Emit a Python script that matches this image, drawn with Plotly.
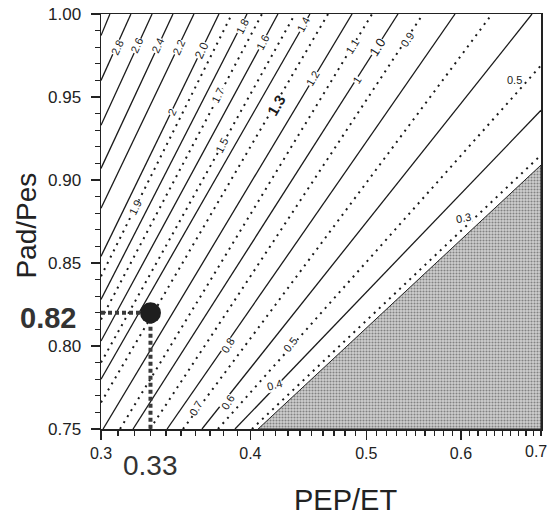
import math
import plotly.graph_objects as go

# ---------------- data ----------------
# contour level of each line
levels = [3.0, 2.8, 2.6, 2.4, 2.2, 2.0, 1.9, 1.8, 1.7, 1.6, 1.5, 1.4, 1.3,
          1.2, 1.1, 1.0, 0.9, 0.8, 0.7, 0.6, 0.5, 0.4, 0.3]
# lower-left end of each contour line (PEP/ET, Pad/Pes)
start_x = [0.3, 0.3, 0.3, 0.3, 0.3, 0.3, 0.3, 0.3, 0.3, 0.3, 0.3, 0.3, 0.3,
           0.3012, 0.3112, 0.3191, 0.3297, 0.3407, 0.3513, 0.3644, 0.3758, 0.3883, 0.4012]
start_y = [0.987, 0.960, 0.933, 0.907, 0.883, 0.854, 0.842, 0.828, 0.816, 0.803, 0.790, 0.780, 0.766,
           0.75, 0.75, 0.75, 0.75, 0.75, 0.75, 0.75, 0.75, 0.75, 0.75]
# upper-right end of each contour line
end_x = [0.3052, 0.3178, 0.331, 0.3446, 0.3588, 0.3765, 0.386, 0.3974, 0.409, 0.4218, 0.4359, 0.4486, 0.4645,
         0.4865, 0.5056, 0.5315, 0.5577, 0.5932, 0.637, 0.688, 0.7, 0.7, 0.7]
end_y = [1.0, 1.0, 1.0, 1.0, 1.0, 1.0, 1.0, 1.0, 1.0, 1.0, 1.0, 1.0, 1.0,
         1.0, 1.0, 1.0, 1.0, 1.0, 1.0, 1.0, 0.969, 0.942, 0.915]

# shaded (excluded) region corners
shade_x = [0.406, 0.7, 0.7, 0.406]
shade_y = [0.75, 0.75, 0.909, 0.75]

# contour labels
label_text = ["2.8", "2.6", "2.4", "2.2", "2.0", "1.8", "1.6", "1.4", "1.2", "1.1", "1.0", "0.9",
              "2", "1.7", "1.5", "1.3", "1", "1.9", "0.5", "0.3", "0.8", "0.6", "0.7", "0.5", "0.4"]
label_x = [0.3094, 0.3215, 0.3348, 0.3486, 0.3644, 0.3936, 0.4098, 0.4427, 0.4512, 0.4865, 0.5104, 0.5408,
           0.344, 0.3758, 0.3787, 0.421, 0.4911, 0.3203, 0.6658, 0.6024, 0.3831, 0.3831, 0.3602, 0.4317, 0.4186]
label_y = [0.9795, 0.9813, 0.9813, 0.9801, 0.9783, 0.9922, 0.9831, 0.9934, 0.9614, 0.9801, 0.9801, 0.9843,
           0.941, 0.9512, 0.9211, 0.9452, 0.9602, 0.8831, 0.9602, 0.8771, 0.8006, 0.7663, 0.7627, 0.8006, 0.7765]
label_angle = [-65, -65, -65, -65, -65, -63, -63, -62, -60, -58, -58, -57,
               -64, -63, -63, -60, -58, -64, 0, -10, -58, -58, -60, -52, -15]
label_size = [11, 11, 11, 11, 12, 11, 11, 11, 11, 11, 13, 11,
              11, 11, 11, 15, 11, 11, 11, 11, 11, 11, 11, 11, 11]

# highlighted point
point_x = [0.33]
point_y = [0.82]

x_ticks = [0.3, 0.4, 0.5, 0.6, 0.7]
x_tick_text = ["0.3", "0.4", "0.5", "0.6", ""]   # last label drawn separately so it stays inside the page
x_last_label = "0.7"
y_ticks = [0.75, 0.80, 0.85, 0.90, 0.95, 1.00]
y_tick_text = ["0.75", "0.80", "0.85", "0.90", "0.95", "1.00"]
x_minor = [round(0.3 + 0.01 * i, 2) for i in range(41)]
y_minor = [round(0.75 + 0.01 * i, 2) for i in range(26)]

# ---------------- figure ----------------
fig = go.Figure()

fig.add_trace(go.Scatter(
    x=shade_x, y=shade_y, mode="lines", fill="toself",
    fillcolor="#c8c8c8",
    fillpattern=dict(shape=".", fgcolor="#333333", bgcolor="#d0d0d0", size=3, solidity=0.4),
    line=dict(color="#222222", width=1), hoverinfo="skip", showlegend=False))

for lv, x0, y0, x1, y1 in zip(levels, start_x, start_y, end_x, end_y):
    odd = round(lv * 10) % 2 == 1
    fig.add_trace(go.Scatter(
        x=[x0, x1], y=[y0, y1], mode="lines",
        line=dict(color="#1a1a1a", width=2 if odd else 1.3, dash="2px,5px" if odd else "solid"),
        hoverinfo="skip", showlegend=False))

# guide lines to the point
fig.add_trace(go.Scatter(x=[0.3, point_x[0]], y=[point_y[0], point_y[0]], mode="lines",
                         line=dict(color="#3a3a3a", width=4, dash="4px,3px"),
                         hoverinfo="skip", showlegend=False))
fig.add_trace(go.Scatter(x=[point_x[0], point_x[0]], y=[point_y[0], 0.75], mode="lines",
                         line=dict(color="#3a3a3a", width=4, dash="4px,3px"),
                         hoverinfo="skip", showlegend=False))
fig.add_trace(go.Scatter(x=point_x, y=point_y, mode="markers",
                         marker=dict(size=21, color="#1e1e1e"),
                         hoverinfo="skip", showlegend=False))

# contour labels (log axis: annotation x is given as log10 of the value)
for t, x, y, a, s in zip(label_text, label_x, label_y, label_angle, label_size):
    bold = t == "1.3"
    fig.add_annotation(x=math.log10(x), y=y, xref="x", yref="y",
                       text=("<b>%s</b>" % t) if bold else t,
                       showarrow=False, textangle=a, bgcolor="white", borderpad=0,
                       font=dict(size=s, color="#1a1a1a"))

fig.add_annotation(x=-0.052, y=0.817, xref="paper", yref="y", xanchor="right", yanchor="middle",
                   text="<b>0.82</b>", showarrow=False, font=dict(size=29, color="#333333"))
fig.add_annotation(x=math.log10(point_x[0]), y=-0.087, xref="x", yref="paper", yanchor="middle",
                   text="0.33", showarrow=False, font=dict(size=28, color="#333333"))
fig.add_annotation(x=math.log10(x_ticks[-1]), y=0, xref="x", yref="paper", xanchor="right",
                   yanchor="top", xshift=8, yshift=-12, text=x_last_label, showarrow=False,
                   font=dict(size=16, color="#222"))

# axis titles
fig.add_annotation(x=-0.209, y=0.489, xref="paper", yref="paper", textangle=-90,
                   text="Pad/Pes", showarrow=False, font=dict(size=28, color="#222"))
fig.add_annotation(x=0.556, y=-0.214, xref="paper", yref="paper",
                   text="PEP/ET", showarrow=False, font=dict(size=29, color="#222"))

font_family = "Liberation Sans, Arial, sans-serif"
fig.update_layout(
    width=550, height=525,
    margin=dict(l=101, r=9, t=14, b=96),
    paper_bgcolor="white", plot_bgcolor="white",
    font=dict(family=font_family, color="#222222"),
    hovermode=False,
    xaxis=dict(type="log", range=[math.log10(0.3), math.log10(0.7)], tickvals=x_ticks,
               ticktext=x_tick_text, automargin=False,
               ticks="outside", ticklen=9, tickwidth=1.3, tickcolor="#222",
               showline=True, linecolor="#222", linewidth=1.5, mirror=True,
               showgrid=False, zeroline=False, tickfont=dict(size=16, color="#222"),
               minor=dict(tickvals=x_minor, ticks="outside", ticklen=5, tickcolor="#222", showgrid=False)),
    yaxis=dict(range=[0.75, 1.0], tickvals=y_ticks, ticktext=y_tick_text, automargin=False,
               ticklabelstandoff=6,
               ticks="outside", ticklen=9, tickwidth=1.3, tickcolor="#222",
               showline=True, linecolor="#222", linewidth=1.5, mirror=True,
               showgrid=False, zeroline=False, tickfont=dict(size=17, color="#222"),
               minor=dict(tickvals=y_minor, ticks="outside", ticklen=5, tickcolor="#222", showgrid=False)),
)

fig.write_html("out.html", config={"displayModeBar": False, "staticPlot": True},
               post_script="document.body.style.margin='0px';")
